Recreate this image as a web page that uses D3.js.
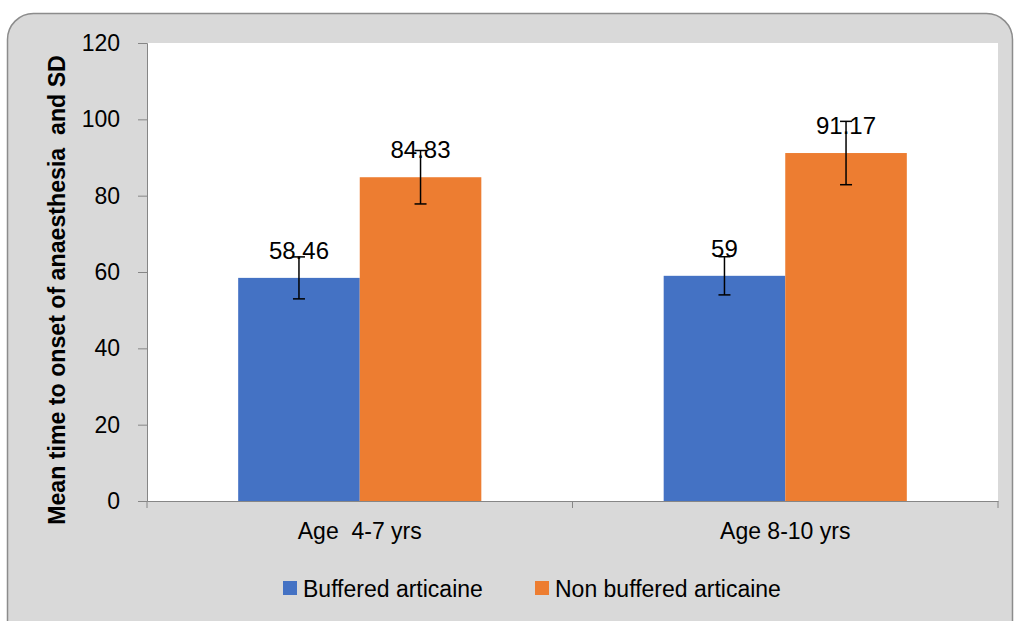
<!DOCTYPE html>
<html>
<head>
<meta charset="utf-8">
<script src="https://cdn.jsdelivr.net/npm/d3@7"></script>
<style>
  body { margin: 0; background: #fff; }
  text { font-family: "Liberation Sans", Arial, sans-serif; fill: #000; }
</style>
</head>
<body>
<div id="chartVis"></div>
<script>
// data
var categories = ["Age  4-7 yrs", "Age 8-10 yrs"];
var seriesNames = ["Buffered articaine", "Non buffered articaine"];
var buffered = [58.46, 59];
var nonBuffered = [84.83, 91.17];
var bufferedSD = [5.5, 5];
var nonBufferedSD = [7, 8.3];
var valueLabels = [["58.46", "59"], ["84.83", "91.17"]];
var yTicks = [0, 20, 40, 60, 80, 100, 120];
var colors = ["#4472c4", "#ed7d31"];

var width = 1015, height = 621;
var plot = { left: 147, right: 998, top: 43, bottom: 501 };

var svg = d3.select("#chartVis")
  .append("svg")
  .attr("width", width)
  .attr("height", height);

// chart area background
svg.append("rect")
  .attr("x", 7.5).attr("y", 13.5)
  .attr("width", 1005).attr("height", 640)
  .attr("rx", 26).attr("ry", 26)
  .attr("fill", "#d9d9d9")
  .attr("stroke", "#8c8c8c")
  .attr("stroke-width", 1.5);

svg.append("rect")
  .attr("x", plot.left).attr("y", plot.top)
  .attr("width", plot.right - plot.left)
  .attr("height", plot.bottom - plot.top)
  .attr("fill", "#fff");

// scales
var x0 = d3.scaleBand()
  .domain(categories)
  .range([plot.left, plot.right])
  .paddingInner(0).paddingOuter(0);

var x1 = d3.scaleBand()
  .domain(seriesNames)
  .range([0, x0.bandwidth()])
  .paddingInner(0).paddingOuter(0.75);

var y = d3.scaleLinear()
  .domain([0, 120])
  .range([plot.bottom, plot.top]);

var rows = [];
categories.forEach(function(c, i) {
  rows.push({ cat: c, s: 0, v: buffered[i], sd: bufferedSD[i], label: valueLabels[0][i] });
  rows.push({ cat: c, s: 1, v: nonBuffered[i], sd: nonBufferedSD[i], label: valueLabels[1][i] });
});

// bars
svg.selectAll(".bar")
  .data(rows)
  .enter()
  .append("rect")
  .attr("class", "bar")
  .attr("x", d => x0(d.cat) + x1(seriesNames[d.s]))
  .attr("y", d => y(d.v))
  .attr("width", x1.bandwidth())
  .attr("height", d => y(0) - y(d.v))
  .attr("fill", d => colors[d.s]);

// y axis
var yAxis = svg.append("g")
  .attr("transform", "translate(" + plot.left + ",0)")
  .call(d3.axisLeft(y).tickValues(yTicks).tickSize(9).tickPadding(18));
yAxis.select(".domain").attr("stroke", "#868686");
yAxis.selectAll(".tick line").attr("stroke", "#868686");
yAxis.selectAll("text")
  .style("font-size", "23px")
  .style("font-family", "Liberation Sans, Arial, sans-serif")
  .attr("fill", "#000");

// x axis
var xAxis = svg.append("g")
  .attr("transform", "translate(0," + plot.bottom + ")")
  .call(d3.axisBottom(x0).tickSize(0).tickPadding(22));
xAxis.select(".domain").attr("stroke", "#868686");
xAxis.selectAll("text")
  .style("font-size", "23px")
  .style("font-family", "Liberation Sans, Arial, sans-serif")
  .style("white-space", "pre")
  .attr("fill", "#000");

// category boundary ticks
var bounds = categories.map(c => x0(c)).concat([x0.range()[1]]);
svg.selectAll(".xtick")
  .data(bounds)
  .enter()
  .append("line")
  .attr("x1", d => d).attr("x2", d => d)
  .attr("y1", plot.bottom).attr("y2", plot.bottom + 7)
  .attr("stroke", "#868686");

// error bars
var err = svg.selectAll(".err")
  .data(rows)
  .enter()
  .append("g")
  .attr("transform", d => "translate(" + (x0(d.cat) + x1(seriesNames[d.s]) + x1.bandwidth() / 2) + ",0)");

err.append("line")
  .attr("y1", d => y(d.v + d.sd)).attr("y2", d => y(d.v - d.sd))
  .attr("stroke", "#000").attr("stroke-width", 1.5);
err.append("line")
  .attr("x1", -6).attr("x2", 6)
  .attr("y1", d => y(d.v + d.sd)).attr("y2", d => y(d.v + d.sd))
  .attr("stroke", "#000").attr("stroke-width", 1.5);
err.append("line")
  .attr("x1", -6).attr("x2", 6)
  .attr("y1", d => y(d.v - d.sd)).attr("y2", d => y(d.v - d.sd))
  .attr("stroke", "#000").attr("stroke-width", 1.5);

// value labels
svg.selectAll(".vlabel")
  .data(rows)
  .enter()
  .append("text")
  .attr("x", d => x0(d.cat) + x1(seriesNames[d.s]) + x1.bandwidth() / 2)
  .attr("y", d => y(d.v) - 19)
  .attr("text-anchor", "middle")
  .style("font-size", "24px")
  .text(d => d.label);

// y axis title, sized to span about 470px like the original
var title = svg.append("text")
  .attr("transform", "translate(65,290) rotate(-90)")
  .attr("text-anchor", "middle")
  .style("font-size", "20px")
  .style("font-weight", "bold")
  .style("white-space", "pre")
  .text("Mean time to onset of anaesthesia  and SD");
var tl = title.node().getComputedTextLength();
title.style("font-size", (20 * 470 / tl) + "px");

// legend
var legendX = [283, 535];
var legend = svg.selectAll(".legend")
  .data(seriesNames)
  .enter()
  .append("g")
  .attr("transform", (d, i) => "translate(" + legendX[i] + ",581)");
legend.append("rect")
  .attr("width", 14).attr("height", 14)
  .attr("fill", (d, i) => colors[i]);
legend.append("text")
  .attr("x", 20).attr("y", 15.5)
  .style("font-size", "23px")
  .text(d => d);
</script>
</body>
</html>
